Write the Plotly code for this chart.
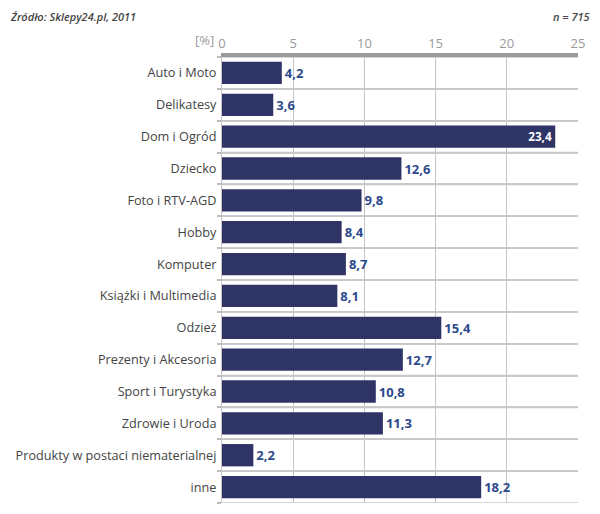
import plotly.graph_objects as go

categories = ["Auto i Moto", "Delikatesy", "Dom i Ogród", "Dziecko", "Foto i RTV-AGD",
              "Hobby", "Komputer", "Książki i Multimedia", "Odzież", "Prezenty i Akcesoria",
              "Sport i Turystyka", "Zdrowie i Uroda", "Produkty w postaci niematerialnej", "inne"]
values = [4.2, 3.6, 23.4, 12.6, 9.8, 8.4, 8.7, 8.1, 15.4, 12.7, 10.8, 11.3, 2.2, 18.2]
x_ticks = [0, 5, 10, 15, 20, 25]

ypos = list(range(len(categories)))
labels = [f"{v:.1f}".replace(".", ",") for v in values]
inside = [v > 20 for v in values]
separators = [i + 0.5 for i in range(-1, len(categories))]

# page has an 8px body margin; lay out in page pixels
OFF = 8
W, H = 600 - OFF, 514 - OFF
L, R, T, B = 222 - OFF, 22, 57 - OFF, 11
plot_w = W - L - R
plot_h = H - T - B

def px(pix):
    return (pix - OFF - L) / plot_w

def py(pix):
    return (H - B - (pix - OFF)) / plot_h

GRID = "#c4c4c4"
YRANGE = [len(categories) - 0.5, -0.5]
XMIN, XMAX = x_ticks[0], x_ticks[-1]

# separator lines between category rows (data coordinates)
sep_x, sep_y = [], []
for s in separators:
    sep_x += [XMIN, XMAX, None]
    sep_y += [s, s, None]

fig = go.Figure()
fig.add_trace(go.Scatter(x=sep_x, y=sep_y, mode="lines",
                         line=dict(color="#c8c8c8", width=1.5),
                         hoverinfo="skip", showlegend=False, cliponaxis=False))
fig.add_trace(go.Bar(
    x=values, y=ypos, orientation="h", width=0.7,
    marker=dict(color="#2e3566", line=dict(width=0)),
    text=labels,
    textposition=["inside" if i else "outside" for i in inside],
    insidetextanchor="end",
    textfont=dict(family="Open Sans", size=13, color=["#ffffff" if i else "#2d4a8c" for i in inside], weight="bold"),
    cliponaxis=False,
    hoverinfo="skip",
))
fig.add_trace(go.Scatter(x=[0, 0], y=[separators[0], separators[-1]], yaxis="y2",
                         mode="markers", marker=dict(opacity=0), hoverinfo="skip",
                         showlegend=False))

fig.update_layout(
    width=W, height=H,
    margin=dict(l=L, r=R, t=T, b=B, autoexpand=False),
    paper_bgcolor="white", plot_bgcolor="white",
    showlegend=False,
    font=dict(family="Open Sans", size=12, color="#444444"),
    xaxis=dict(
        side="top", range=[XMIN, XMAX], tickvals=x_ticks, ticktext=[str(t) for t in x_ticks],
        showgrid=True, gridcolor=GRID, gridwidth=1,
        showline=True, linecolor="#9a9a9a", linewidth=4,
        tickfont=dict(color="#9a9a9a", size=13), ticks="", zeroline=False,
        automargin=False, fixedrange=True,
    ),
    yaxis=dict(
        range=YRANGE, tickvals=ypos, ticktext=categories,
        showgrid=False, zeroline=False, ticks="", ticklabelstandoff=2,
        tickfont=dict(color="#444444", size=12.7, weight=500),
        showline=True, linecolor=GRID, linewidth=1,
        automargin=False,
    ),
    yaxis2=dict(
        overlaying="y", side="left", range=YRANGE, tickvals=separators,
        showticklabels=False, showgrid=True, gridcolor="#cccccc", gridwidth=1.5,
        ticks="outside", ticklen=4, tickwidth=1.5, tickcolor="#bbbbbb", zeroline=False, showline=False,
        automargin=False,
    ),
)

fig.layout.annotations = [
    dict(text="<i>Źródło: Sklepy24.pl, 2011</i>", x=px(8), xref="paper", xanchor="left",
         y=py(16), yref="paper", yanchor="middle", showarrow=False,
         font=dict(size=11, color="#444444", weight=600)),
    dict(text="<i>n = 715</i>", x=px(592), xref="paper", xanchor="right",
         y=py(17), yref="paper", yanchor="middle", showarrow=False,
         font=dict(size=11, color="#444444", weight=600)),
    dict(text="[%]", x=px(216), xref="paper", xanchor="right",
         y=py(40), yref="paper", yanchor="middle", showarrow=False,
         font=dict(size=13, color="#9a9a9a")),
]

fig.write_html("out.html")
